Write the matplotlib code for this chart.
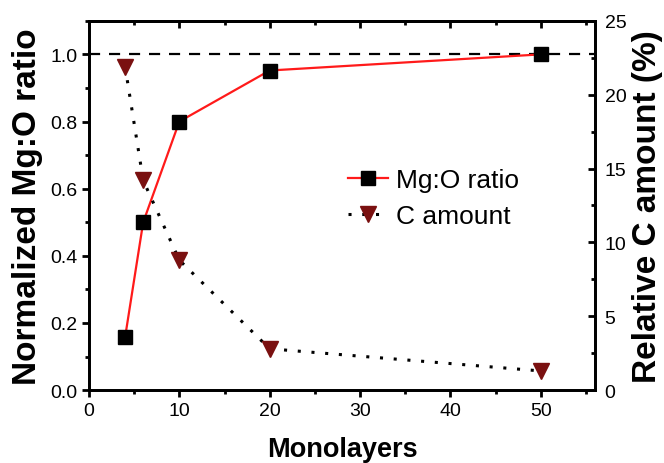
import matplotlib.pyplot as plt
from matplotlib.ticker import MultipleLocator

plt.rcParams['font.family'] = ['Liberation Sans', 'DejaVu Sans']

monolayers = [4, 6, 10, 20, 50]
mgo_ratio = [0.158, 0.50, 0.80, 0.952, 1.0]
c_amount = [21.9, 14.2, 8.8, 2.8, 1.3]

fig = plt.figure(figsize=(6.64, 4.64), dpi=100)
ax = fig.add_axes([0.134, 0.157, 0.762, 0.796])
ax2 = ax.twinx()

ax.axhline(1.0, color='black', ls=(0, (5, 4)), lw=1.6, zorder=1)
l1, = ax.plot(monolayers, mgo_ratio, color='#ff1a1a', lw=1.6, marker='s',
              ms=10, mfc='black', mec='black', label='Mg:O ratio', zorder=3)
l2, = ax2.plot(monolayers, c_amount, color='black', ls=(0, (1, 3.5)), lw=2.2,
               marker='v', ms=11, mfc='#7a1010', mec='#7a1010', label='C amount')

ax.set_xlim(0, 56)
ax.set_ylim(0, 1.1)
ax2.set_ylim(0, 25)

ax.xaxis.set_major_locator(MultipleLocator(10))
ax.xaxis.set_minor_locator(MultipleLocator(5))
ax.yaxis.set_major_locator(MultipleLocator(0.2))
ax.yaxis.set_minor_locator(MultipleLocator(0.1))
ax2.yaxis.set_major_locator(MultipleLocator(5))
ax2.yaxis.set_minor_locator(MultipleLocator(2.5))

ax.tick_params(axis='both', which='major', direction='out', length=5, width=2,
               labelsize=14, top=False)
ax.tick_params(axis='both', which='minor', direction='out', length=3, width=2)
ax.yaxis.set_major_formatter(plt.FormatStrFormatter('%.1f'))
ax2.tick_params(axis='y', which='major', direction='in', length=5, width=2,
                labelsize=14, pad=7)
ax2.tick_params(axis='y', which='minor', direction='in', length=3, width=2)

# inward top ticks without labels
axt = ax.secondary_xaxis('top')
axt.xaxis.set_major_locator(MultipleLocator(10))
axt.xaxis.set_minor_locator(MultipleLocator(5))
axt.tick_params(which='major', direction='in', length=5, width=2, labeltop=False)
axt.tick_params(which='minor', direction='in', length=3, width=2)
axt.spines['top'].set_linewidth(2)

for a in (ax, ax2):
    for s in a.spines.values():
        s.set_linewidth(2)

ax.set_xlabel('Monolayers', fontsize=19.5, fontweight='bold', labelpad=12)
ax.set_ylabel('Normalized Mg:O ratio', fontsize=24, fontweight='bold', labelpad=5)
ax2.set_ylabel('Relative C amount (%)', fontsize=24, fontweight='bold', labelpad=4)

ax.legend([l1, l2], ['Mg:O ratio', 'C amount'], loc='upper left',
          bbox_to_anchor=(0.465, 0.665), frameon=False, fontsize=19,
          handlelength=1.5, handletextpad=0.3, labelspacing=0.45)

fig.savefig('out.png', dpi=100)
